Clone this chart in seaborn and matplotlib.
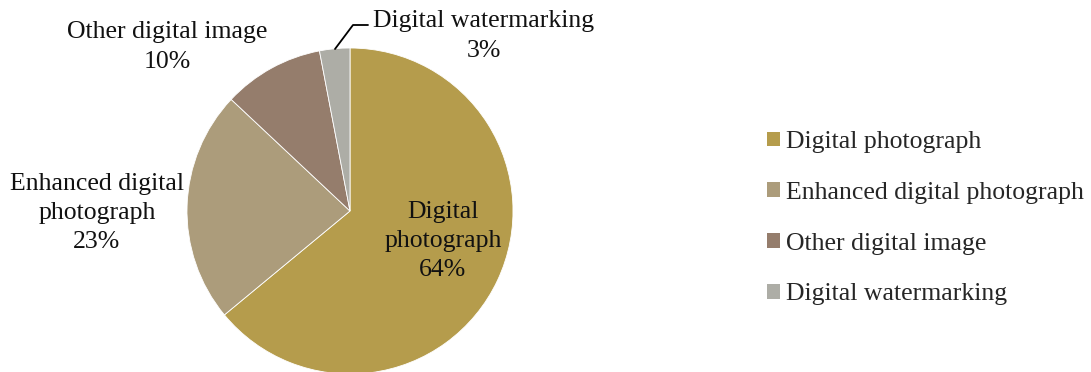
import matplotlib
matplotlib.use("Agg")
import matplotlib.pyplot as plt
import seaborn as sns
from matplotlib.patches import Patch

sns.set_theme(style="white")
plt.rcParams["font.family"] = ["Liberation Serif", "DejaVu Serif"]

categories = ["Digital photograph", "Enhanced digital photograph",
              "Other digital image", "Digital watermarking"]
shares = [64, 23, 10, 3]
colors = ["#B59C4C", "#AC9C7B", "#957D6C", "#ADADA6"]

W, H = 1091, 372
fig = plt.figure(figsize=(W / 100, H / 100), dpi=100)
ax = fig.add_axes([0, 0, 1, 1])

cx, cy, r = 350, H - 211, 163
wedges, _ = ax.pie(shares, colors=colors, startangle=90, counterclock=False,
                   center=(cx, cy), radius=r, frame=True,
                   wedgeprops=dict(edgecolor="white", linewidth=0.6))
ax.set_xlim(0, W)
ax.set_ylim(0, H)
ax.set_aspect("equal")
ax.axis("off")

fs = 18.5
label_pos = [(443, H - 241), (97, H - 213), (167, H - 47), (484, H - 36)]
label_text = ["Digital\nphotograph", "Enhanced digital\nphotograph",
              "Other digital image", "Digital watermarking"]
for (x, y), txt, v in zip(label_pos, label_text, shares):
    ax.text(x, y, f"{txt}\n{v}%", ha="center", va="center", fontsize=fs,
            color="#111111", linespacing=1.42)

# leader line for the smallest slice
ax.plot([335, 353, 368], [H - 49, H - 25, H - 25], color="black", lw=1.3)

handles = [Patch(facecolor=c, edgecolor="none") for c in colors]
leg = fig.legend(handles, categories, loc="upper left",
                 bbox_to_anchor=(767 / W, 1 - 131 / H), frameon=False,
                 fontsize=fs, handlelength=0.5, handleheight=0.5,
                 handletextpad=0.25, labelspacing=1.12, borderpad=0,
                 borderaxespad=0)

fig.savefig("out.png", dpi=100)
